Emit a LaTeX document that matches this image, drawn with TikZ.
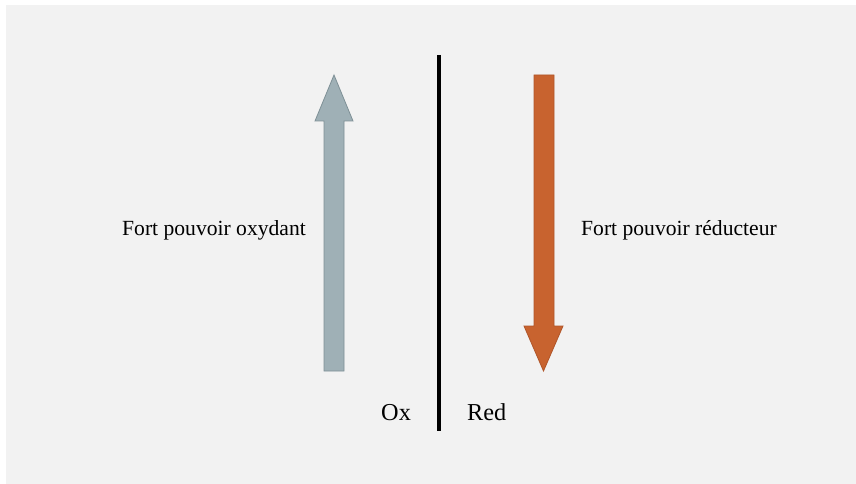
\documentclass[tikz,border=0pt]{standalone}
\usepackage{fontspec}
\setmainfont{Liberation Serif}
\definecolor{panel}{HTML}{F2F2F2}
\definecolor{oxfill}{HTML}{9FB0B6}
\definecolor{oxedge}{HTML}{7E9096}
\definecolor{redfill}{HTML}{C8632F}
\definecolor{rededge}{HTML}{B0562A}
\tikzset{
  sidelabel/.style={font=\fontsize{21.6}{26}\selectfont, inner sep=0pt},
  colabel/.style={font=\fontsize{24.3}{29}\selectfont, inner sep=0pt},
  blockarrow/.style={line width=0.8pt, line join=miter}
}
\begin{document}
\begin{tikzpicture}[x=1pt,y=-1pt]
  % page and panel
  \useasboundingbox (0,0) rectangle (856,484);
  \fill[white] (0,0) rectangle (856,484);
  \fill[panel] (6,5) rectangle (856,484);

  % rising arrow (oxidising strength)
  \draw[blockarrow, fill=oxfill, draw=oxedge]
    (324,371) -- (324,121) -- (315,121) -- (334,75) -- (353,121)
    -- (344,121) -- (344,371) -- cycle;

  % falling arrow (reducing strength)
  \draw[blockarrow, fill=redfill, draw=rededge]
    (534,75) -- (554,75) -- (554,326) -- (563,326) -- (543.5,371)
    -- (524,326) -- (534,326) -- cycle;

  % dividing line
  \coordinate (lineTop) at (439,55);
  \coordinate (lineBot) at (439,431);
  \draw[line width=4pt, black] (lineTop) -- (lineBot);

  % labels
  \node[sidelabel, anchor=base east] (oxstrong) at (306,235) {Fort pouvoir oxydant};
  \node[sidelabel, anchor=base west] (redstrong) at (581,235) {Fort pouvoir réducteur};
  \node[colabel, anchor=base west] (ox) at (381,420.7) {Ox};
  \node[colabel, anchor=base west] (red) at (467,420.7) {Red};
\end{tikzpicture}
\end{document}
